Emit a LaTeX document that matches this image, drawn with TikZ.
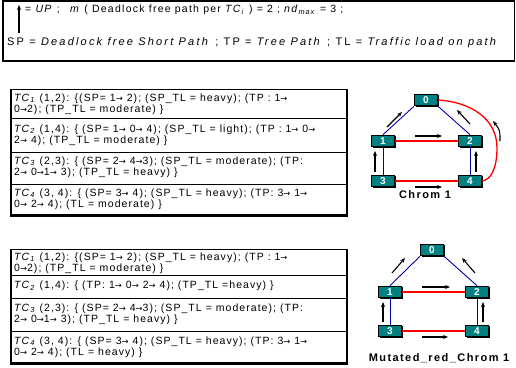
\documentclass[tikz,border=0pt]{standalone}
\usepackage{fontspec}
\usepackage{newunicodechar}
\setmainfont{Liberation Sans}
\newfontfamily\tabfont[LetterSpace=10]{Liberation Sans}
\newfontfamily\headfont[LetterSpace=12]{Liberation Sans}
\newfontfamily\wideheadfont[LetterSpace=20]{Liberation Sans}
\newfontfamily\labfont[LetterSpace=13]{Liberation Sans}
\newfontfamily\arrowfont[Scale=0.8]{DejaVu Sans}
\newunicodechar{→}{{\arrowfont\symbol{"2192}}}
\usetikzlibrary{arrows.meta,shadows}

\newcommand{\TCsub}[1]{\textit{TC}\textsubscript{\textit{#1}}}

\tikzset{
  tabtext/.style={anchor=north west, inner sep=0pt, align=left,
    font=\tabfont\fontsize{10.5}{11.5}\selectfont},
  rowline/.style={line width=0.7pt},
  chip/.style={draw=black, line width=1.2pt,
    fill={rgb,255:red,0;green,128;blue,128}, text=white,
    font=\bfseries\fontsize{10}{10}\selectfont,
    minimum width=23pt, minimum height=11.5pt, inner sep=0pt,
    drop shadow={shadow xshift=1pt, shadow yshift=-1pt, fill=black, opacity=1}},
  treeedge/.style={draw={rgb,255:red,0;green,0;blue,170}, line width=0.9pt},
  shortedge/.style={draw={rgb,255:red,255;green,0;blue,0}, line width=1.3pt},
  flow/.style={-{Stealth[length=5pt,width=4pt]}, line width=1.1pt, black},
  caption/.style={font=\labfont\bfseries\fontsize{11}{11}\selectfont, inner sep=0pt}
}

\begin{document}
\begin{tikzpicture}[x=1pt,y=-1pt]
\useasboundingbox (0,0) rectangle (516,367);

% ---- legend box ----
\draw[line width=1.2pt] (3,1) rectangle (514.5,61);
\draw[line width=2.5pt] (2.5,61) -- (515,61);
\draw[line width=1.8pt] (3,1) -- (3,61);
\draw[flow, line width=1.3pt] (19,33) -- (19,5);
\node[anchor=west, inner sep=0pt, font=\headfont\fontsize{10.5}{12}\selectfont] (legA) at (25,10)
  {= \textit{UP} ;\quad \textit{m} ( Deadlock free path per \TCsub{i} ) = 2 ; \textit{nd}\textsubscript{\textit{max}} = 3 ;};
\node[anchor=west, inner sep=0pt, font=\wideheadfont\fontsize{11}{12}\selectfont] (legB) at (7,43)
  {SP = \textit{Deadlock free Short Path} ; TP = \textit{Tree Path} ; TL = \textit{Traffic load on path}};

% ---- first table ----
\draw[line width=1pt] (11,89) -- (347,89);
\draw[rowline] (11,118) -- (347,118);
\draw[rowline] (11,152) -- (347,152);
\draw[rowline] (11,184) -- (347,184);
\draw[line width=3pt] (10,215) -- (348,215);
\draw[line width=2pt] (11,89) -- (11,216);
\draw[line width=2pt] (347,89) -- (347,216);
\node[tabtext] (a1) at (14,93.5) {\TCsub{1} (1,2): {\{}(SP= 1→ 2); (SP\_TL = heavy); (TP : 1→\\0→2); (TP\_TL = moderate) \}};
\node[tabtext] (a2) at (14,124.5) {\TCsub{2} (1,4): \{ (SP= 1→ 0→ 4); (SP\_TL = light); (TP : 1→ 0→\\2→ 4); (TP\_TL = moderate) \}};
\node[tabtext] (a3) at (14,156.5) {\TCsub{3} (2,3): \{ (SP= 2→ 4→3);\ (SP\_TL = moderate); (TP:\\2→ 0→1→ 3); (TP\_TL = heavy) \}};
\node[tabtext] (a4) at (14,188.5) {\TCsub{4} (3, 4): \{ (SP= 3→ 4); (SP\_TL = heavy); (TP: 3→ 1→\\0→ 2→ 4); (TL = moderate) \}};

% ---- second table ----
\draw[line width=1pt] (11,249) -- (347,249);
\draw[rowline] (11,275) -- (347,275);
\draw[rowline] (11,298) -- (347,298);
\draw[rowline] (11,331) -- (347,331);
\draw[line width=3pt] (10,363) -- (348,363);
\draw[line width=2pt] (11,249) -- (11,364);
\draw[line width=2pt] (347,249) -- (347,364);
\node[tabtext] (b1) at (14,252.5) {\TCsub{1} (1,2): {\{}(SP= 1→ 2); (SP\_TL = heavy); (TP : 1→\\0→2); (TP\_TL = moderate) \}};
\node[tabtext] (b2) at (14,281) {\TCsub{2} (1,4): \{ (TP: 1→ 0→ 2→ 4); (TP\_TL =heavy) \}};
\node[tabtext] (b3) at (14,303.5) {\TCsub{3} (2,3): \{ (SP= 2→ 4→3);\ (SP\_TL = moderate); (TP:\\2→ 0→1→ 3); (TP\_TL = heavy) \}};
\node[tabtext] (b4) at (14,336.5) {\TCsub{4} (3, 4): \{ (SP= 3→ 4); (SP\_TL = heavy); (TP: 3→ 1→\\0→ 2→ 4); (TL = heavy) \}};

% ---- Chrom 1 ----
\node[chip] (c0) at (426,100) {0};
\node[chip] (c1) at (383,141) {1};
\node[chip] (c2) at (470,141) {2};
\node[chip] (c3) at (383,181) {3};
\node[chip] (c4) at (470,181) {4};
\draw[treeedge] (c1.north) -- (c0.south west);
\draw[treeedge] (c2.north) -- (c0.south east);
\draw[treeedge] (c1.south) -- (c3.north);
\draw[treeedge] (c2.south) -- (c4.north);
\draw[shortedge] (c1.east) -- (c2.west);
\draw[shortedge] (c3.east) -- (c4.west);
\draw[shortedge] (c0.east) .. controls (470,102) and (497,118) .. (497,148)
  .. controls (497,168) and (491,180) .. (c4.east);
\draw[flow] (387,127) -- (402,112);
\draw[flow] (470,124) -- (457,110);
\draw[flow] (415,136) -- (442,136);
\draw[flow] (415,187) -- (442,187);
\draw[flow] (375,172) -- (375,151);
\draw[flow] (476,172) -- (476,151);
\draw[flow] (500,141) .. controls (500,130) .. (493,121);
\node[caption] (capA) at (425,195) {Chrom 1};

% ---- Mutated_red_Chrom 1 ----
\node[chip] (m0) at (432,250) {0};
\node[chip] (m1) at (390,292) {1};
\node[chip] (m2) at (477,292) {2};
\node[chip] (m3) at (390,331) {3};
\node[chip] (m4) at (477,331) {4};
\draw[treeedge] (m1.north) -- (m0.south west);
\draw[treeedge] (m2.north) -- (m0.south east);
\draw[treeedge] (m1.south) -- (m3.north);
\draw[treeedge] (m2.south) -- (m4.north);
\draw[shortedge] (m1.east) -- (m2.west);
\draw[shortedge] (m3.east) -- (m4.west);
\draw[flow] (392,273) -- (405,258);
\draw[flow] (475,273) -- (462,258);
\draw[flow] (422,287) -- (450,287);
\draw[flow] (422,337) -- (448,337);
\draw[flow] (383,322) -- (383,302);
\draw[flow] (483,322) -- (483,302);
\node[caption] (capB) at (439,358) {Mutated\_red\_Chrom 1};
\end{tikzpicture}
\end{document}
